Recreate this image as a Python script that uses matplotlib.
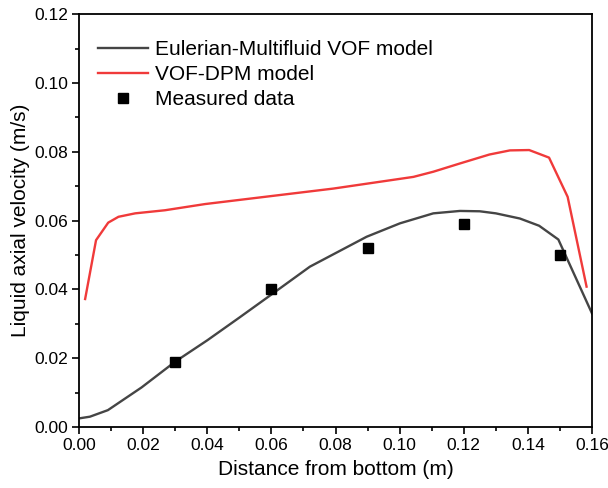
import matplotlib.pyplot as plt
from matplotlib.ticker import MultipleLocator

plt.rcParams["font.family"] = ["Liberation Sans", "DejaVu Sans"]

# ---------------- data ----------------
euler_x = [0.0, 0.0034, 0.009, 0.0195, 0.03, 0.04, 0.05, 0.06, 0.072, 0.0897,
           0.1001, 0.1105, 0.1188, 0.125, 0.13, 0.1375, 0.1435, 0.1495, 0.16]
euler_y = [0.0025, 0.003, 0.0049, 0.0115, 0.019, 0.0252, 0.0318, 0.0385, 0.0466, 0.0553,
           0.0592, 0.0621, 0.0628, 0.0627, 0.0621, 0.0606, 0.0585, 0.0545, 0.033]

dpm_x = [0.0019, 0.0053, 0.0091, 0.0123, 0.0175, 0.0268, 0.0393, 0.0793,
         0.1043, 0.1105, 0.1188, 0.128, 0.1344, 0.1404, 0.1466, 0.1524, 0.1583]
dpm_y = [0.0372, 0.0543, 0.0594, 0.0611, 0.0621, 0.0630, 0.0648, 0.0693,
         0.0727, 0.0742, 0.0766, 0.0792, 0.0804, 0.0805, 0.0783, 0.0669, 0.0408]

meas_x = [0.03, 0.06, 0.09, 0.12, 0.15]
meas_y = [0.019, 0.040, 0.052, 0.059, 0.050]

fig = plt.figure(figsize=(6.08, 4.88), dpi=100)
ax = fig.add_axes([0.130, 0.125, 0.8437, 0.846])

ax.plot(euler_x, euler_y, color="#454545", linewidth=1.7, label="Eulerian-Multifluid VOF model")
ax.plot(dpm_x, dpm_y, color="#f03a3a", linewidth=1.7, label="VOF-DPM model")
ax.plot(meas_x, meas_y, "s", color="black", markersize=6.5, label="Measured data")

ax.set_xlim(0, 0.16)
ax.set_ylim(0, 0.12)
ax.xaxis.set_major_locator(MultipleLocator(0.02))
ax.xaxis.set_minor_locator(MultipleLocator(0.01))
ax.yaxis.set_major_locator(MultipleLocator(0.02))
ax.yaxis.set_minor_locator(MultipleLocator(0.01))
ax.xaxis.set_major_formatter(lambda v, p: f"{v:.2f}")
ax.yaxis.set_major_formatter(lambda v, p: f"{v:.2f}")
ax.tick_params(which="major", direction="out", length=5, width=1.2, labelsize=12.5, pad=3)
ax.tick_params(which="minor", direction="out", length=3, width=1.2)
for s in ax.spines.values():
    s.set_linewidth(1.3)

ax.set_xlabel("Distance from bottom (m)", fontsize=15, labelpad=5)
ax.set_ylabel("Liquid axial velocity (m/s)", fontsize=15, labelpad=3)

ax.legend(loc="upper left", frameon=False, fontsize=15, handlelength=2.4,
          handletextpad=0.35, labelspacing=0.3, borderaxespad=0,
          bbox_to_anchor=(0.02, 0.958))

fig.savefig("out.png", dpi=100)
